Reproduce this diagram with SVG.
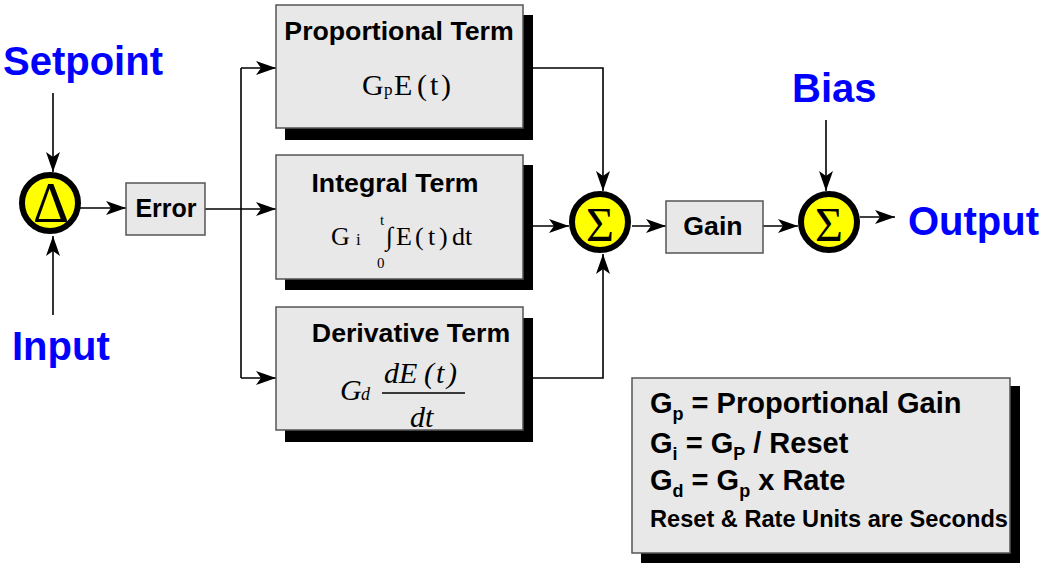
<svg xmlns="http://www.w3.org/2000/svg" width="1045" height="565" viewBox="0 0 1045 565">
<style>
.box{fill:#e8e8e8;stroke:#555;stroke-width:1.5}
.shadow{fill:#000}
.title{font-family:"Liberation Sans",Arial,sans-serif;font-weight:bold;font-size:26.7px;fill:#000;text-anchor:middle}
.small{font-size:25px}
.blue{font-family:"Liberation Sans",Arial,sans-serif;font-weight:bold;font-size:40px;fill:#0000ff}
.math{font-family:"Liberation Serif","Times New Roman",serif;fill:#000}
.leg{font-family:"Liberation Sans",Arial,sans-serif;font-weight:bold;fill:#000}
.circ{fill:#ffff00;stroke:#000;stroke-width:6}
.wire{fill:none;stroke:#000;stroke-width:1.6}
.arr{marker-end:url(#ah)}
</style>
<defs>
<marker id="ah" markerUnits="userSpaceOnUse" markerWidth="20" markerHeight="14" refX="20" refY="7" orient="auto">
<path d="M0,0 L20,7 L0,14 L5,7 z" fill="#000"/>
</marker>
</defs>
<g id="connectors">
<path class="wire arr" d="M53,93 V172"/>
<path class="wire arr" d="M53,315 V236"/>
<path class="wire arr" d="M80,208 H126"/>
<path class="wire" d="M205,209 H241"/>
<path class="wire" d="M241,68 V378"/>
<path class="wire arr" d="M241,68 H276"/>
<path class="wire arr" d="M241,209 H276"/>
<path class="wire arr" d="M241,378 H276"/>
<path class="wire arr" d="M523,68 H603 V191"/>
<path class="wire arr" d="M523,226 H569"/>
<path class="wire arr" d="M523,378 H603 V254"/>
<path class="wire arr" d="M632,226 H666"/>
<path class="wire arr" d="M763,226 H798"/>
<path class="wire arr" d="M826,120 V191"/>
<path class="wire arr" d="M860,217 H895"/>
</g>
<g id="setpoint"><text class="blue" x="3" y="75">Setpoint</text></g>
<g id="input"><text class="blue" x="12" y="360">Input</text></g>
<g id="bias"><text class="blue" x="792" y="102">Bias</text></g>
<g id="output"><text class="blue" x="908" y="235" font-size="41">Output</text></g>
<g id="delta">
<circle class="circ" cx="50" cy="203" r="28"/>
<text class="math" x="51" y="222" font-size="56" text-anchor="middle">Δ</text>
</g>
<g id="error">
<rect class="box" x="126" y="183" width="79" height="52"/>
<text class="title small" x="166" y="217">Error</text>
</g>
<g id="proportional">
<rect class="shadow" x="285" y="15" width="248" height="125"/>
<rect class="box" x="276" y="5" width="247" height="123"/>
<text class="title" x="399" y="40">Proportional Term</text>
<text class="math" font-size="30" y="95"><tspan x="362">G</tspan><tspan x="384" font-size="17">p</tspan><tspan x="394">E</tspan><tspan x="417">(</tspan><tspan x="430">t</tspan><tspan x="441">)</tspan></text>
</g>
<g id="integral">
<rect class="shadow" x="285" y="165" width="248" height="125"/>
<rect class="box" x="276" y="155" width="247" height="124"/>
<text class="title" x="395" y="192">Integral Term</text>
<text class="math" font-size="26" y="245"><tspan x="331">G</tspan><tspan x="356" font-size="17">i</tspan></text>
<text class="math" font-size="15" x="380" y="225">t</text>
<text class="math" font-size="15" x="377" y="268">0</text>
<text class="math" font-size="26" x="386" y="245">∫</text>
<text class="math" font-size="26" y="245"><tspan x="396">E</tspan><tspan x="415">(</tspan><tspan x="428">t</tspan><tspan x="439">)</tspan><tspan x="452">dt</tspan></text>
</g>
<g id="derivative">
<rect class="shadow" x="285" y="318" width="248" height="124"/>
<rect class="box" x="276" y="307" width="247" height="123"/>
<text class="title" x="411" y="342">Derivative Term</text>
<text class="math" font-size="30" font-style="italic" y="400"><tspan x="340">G</tspan><tspan x="361" font-size="18">d</tspan></text>
<text class="math" font-size="30" font-style="italic" y="383"><tspan x="384">dE</tspan><tspan x="424">(</tspan><tspan x="436">t</tspan><tspan x="447">)</tspan></text>
<line x1="382" y1="393" x2="465" y2="393" stroke="#000" stroke-width="1.5"/>
<text class="math" font-size="30" font-style="italic" x="410" y="427">dt</text>
</g>
<g id="sum1">
<circle class="circ" cx="600" cy="222" r="28"/>
<text class="math" x="600" y="241" font-size="48" text-anchor="middle">Σ</text>
</g>
<g id="gain">
<rect class="box" x="666" y="201" width="97" height="52"/>
<text class="title" x="713" y="235" font-size="26">Gain</text>
</g>
<g id="sum2">
<circle class="circ" cx="829" cy="222" r="28"/>
<text class="math" x="829" y="241" font-size="48" text-anchor="middle">Σ</text>
</g>
<g id="legend">
<rect class="shadow" x="641" y="386" width="379" height="177"/>
<rect class="box" x="632" y="378" width="378" height="175"/>
<text class="leg" font-size="29" x="650" y="413">G<tspan font-size="18" dy="7">p</tspan><tspan dy="-7"> = Proportional Gain</tspan></text>
<text class="leg" font-size="29" x="650" y="453">G<tspan font-size="18" dy="7">i</tspan><tspan dy="-7"> = G</tspan><tspan font-size="18" dy="7">P</tspan><tspan dy="-7"> / Reset</tspan></text>
<text class="leg" font-size="29" x="650" y="490">G<tspan font-size="18" dy="7">d</tspan><tspan dy="-7"> = G</tspan><tspan font-size="18" dy="7">p</tspan><tspan dy="-7"> x Rate</tspan></text>
<text class="leg" font-size="23.6" x="650" y="527">Reset &amp; Rate Units are Seconds</text>
</g>
</svg>
